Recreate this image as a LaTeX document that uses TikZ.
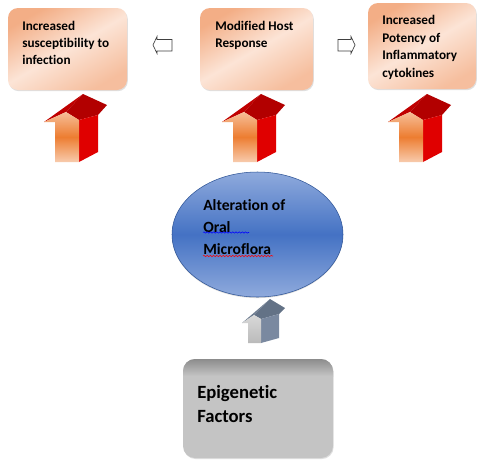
\documentclass[tikz,border=0pt]{standalone}
\usepackage{fontspec}
\setmainfont{Carlito}[Ligatures={NoCommon}, RawFeature=-liga, RawFeature=-clig, RawFeature=-calt]
\usetikzlibrary{shapes.geometric,fit,shadows,decorations.pathmorphing}

\definecolor{peachdark}{HTML}{F3AE86}
\definecolor{peachlight}{HTML}{FCE4D6}
\definecolor{roofred}{HTML}{C00000}
\definecolor{roofdark}{HTML}{B20000}
\definecolor{sidered}{HTML}{E00000}
\definecolor{stemorange}{HTML}{ED7D31}
\definecolor{stemlight}{HTML}{F6BE98}
\definecolor{ovalblue}{HTML}{4472C4}
\definecolor{ovallight}{HTML}{8FAADC}
\definecolor{ovalline}{HTML}{2F5597}
\definecolor{slate}{HTML}{6E7D91}
\definecolor{slatedark}{HTML}{637286}
\definecolor{slateside}{HTML}{7A89A0}
\definecolor{stemgrey}{HTML}{CFCFCF}
\definecolor{boxgrey}{HTML}{C4C4C4}
\definecolor{bevelgrey}{HTML}{8C8C8C}

\tikzset{
  outcome/.style={fit={#1}, inner sep=0pt, rounded corners=7.5pt, draw=none,
    top color=peachdark, bottom color=peachdark!70!peachlight, middle color=peachlight,
    shading angle=30, drop shadow={shadow xshift=0.6pt, shadow yshift=-0.9pt, opacity=0.25}},
  boxlabel/.style={anchor=north west, inner sep=0pt, align=left,
    font=\bfseries\fontsize{9.9pt}{13.1pt}\selectfont},
  hollow/.style={draw=black!75, fill=white, line width=0.5pt},
  squiggle/.style={decorate, decoration={snake, amplitude=0.5pt, segment length=2.4pt}, line width=0.4pt}
}

\begin{document}
\begin{tikzpicture}[x=0.75pt, y=-0.75pt]
	\useasboundingbox[fill=white] (0,0) rectangle (484,464);

	% Outcome boxes
	\node[outcome={(8,8) (127,90)}] (infect) {};
	\node[outcome={(200,8) (313,90)}] (host) {};
	\node[outcome={(368,3) (476,89)}] (potency) {};
	\node[boxlabel] (infecttext) at (22,20.5) {Increased\\susceptibility to\\infection};
	\node[boxlabel] (hosttext) at (215,20.5) {Modified Host\\Response};
	\node[boxlabel] (potencytext) at (382,15.2) {Increased\\Potency of\\Inflammatory\\cytokines};

	% Hollow arrows
	\draw[hollow] (153,45) -- (157,36.5) -- (157,39.5) -- (172,39.5) -- (172,51) -- (157,51) -- (157,53.5) -- cycle;
	\draw[hollow] (355,45) -- (351,36.5) -- (351,39.5) -- (338,39.5) -- (338,51) -- (351,51) -- (351,53.5) -- cycle;

	% Block arrows
	\foreach \dx in {0,178,344}{
		\begin{scope}[shift={(\dx,0)}]
			\fill[roofred] (44,122) -- (83,94) -- (66,112) -- cycle;
			\fill[roofdark] (66,112) -- (83,94) -- (107,105) -- (98,115) -- (79,120) -- cycle;
			\fill[sidered] (79,120) -- (98,115) -- (98,152) -- (79,162) -- cycle;
			\shade[top color=stemlight, bottom color=stemlight!80!white, middle color=stemorange]
				(44,122) -- (66,112) -- (79,120) -- (79,162) -- (55,162) -- (55,122) -- cycle;
		\end{scope}
	}

	% Oral microflora
	\node[ellipse, minimum width=128.25pt, minimum height=93.75pt, inner sep=0pt,
		draw=ovalline, line width=0.4pt, top color=ovallight, bottom color=ovallight,
		middle color=ovalblue, drop shadow={shadow xshift=0pt, shadow yshift=-0.8pt, opacity=0.3}]
		(flora) at (257.5,234.5) {};
	\node[anchor=north west, inner sep=0pt, align=left,
		font=\bfseries\fontsize{11.7pt}{16.5pt}\selectfont] (floratext) at (203,199) {Alteration of\\Oral\\Microflora};
	\draw[squiggle, blue] (203,232.5) -- (249,232.5);
	\draw[squiggle, red] (203,256) -- (273,256);

	% Grey arrow
	\fill[slate] (242,323) -- (270,299) -- (254,315) -- cycle;
	\fill[slatedark] (254,315) -- (270,299) -- (285,308) -- (279,314) -- (261,319) -- cycle;
	\fill[slateside] (261,319) -- (279,314) -- (279,338) -- (261,343) -- cycle;
	\shade[top color=stemgrey!80!white, bottom color=stemgrey!90!black]
		(242,323) -- (254,315) -- (261,319) -- (261,343) -- (248,343) -- (248,323) -- cycle;

	% Epigenetic factors
	\node[fit={(183,359) (333,458)}, inner sep=0pt, rounded corners=9pt, fill=boxgrey,
		drop shadow={shadow xshift=0.5pt, shadow yshift=-0.8pt, opacity=0.25}] (epi) {};
	\begin{scope}
		\clip[rounded corners=9pt] (183,359) rectangle (333,458);
		\shade[top color=bevelgrey, bottom color=boxgrey] (183,359) rectangle (333,376);
	\end{scope}
	\node[anchor=north west, inner sep=0pt, align=left,
		font=\bfseries\fontsize{14pt}{18pt}\selectfont] (epitext) at (197,385.5) {Epigenetic\\Factors};
\end{tikzpicture}
\end{document}
